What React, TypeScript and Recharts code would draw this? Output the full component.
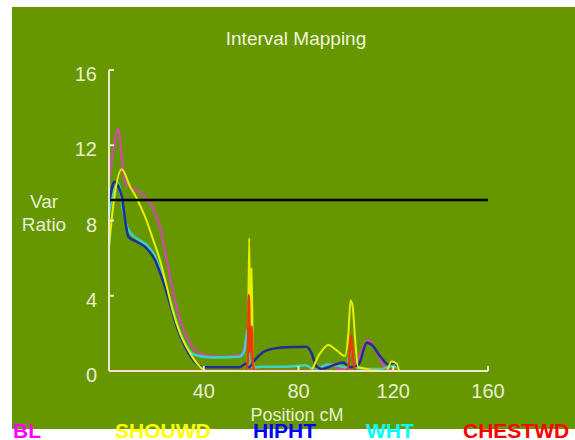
import { LineChart, Line, XAxis, YAxis, ReferenceLine } from "recharts";

// positions (cM) and variance ratios
const blX = [0, 1.5, 3.9, 5.5, 6.8, 10.3, 14.5, 18, 21.5, 24.4, 27.2, 30, 34.2, 39.8, 48, 55.3, 57.4, 58.5, 59.3, 60, 62, 85, 88, 91.8, 94.5, 97, 100, 103, 106, 109.5, 113, 116.5, 120];
const blY = [10.1, 11.5, 12.85, 11.2, 10.0, 9.7, 9.36, 8.8, 7.67, 5.9, 4.14, 2.71, 1.49, 0.85, 0.74, 0.85, 1.3, 2.2, 0.3, 0.05, 0, 0, 0.1, 0.3, 0.3, 0.1, 0.1, 0.2, 0.9, 1.65, 1.0, 0.2, 0];

const shouX = [0, 2, 5.4, 8.9, 11.7, 15.2, 18.7, 21.5, 24.4, 27.2, 30, 34.2, 38.4, 41, 57, 58.5, 59.2, 59.7, 60.2, 60.8, 62, 85, 88.4, 92.6, 96.1, 99.6, 101, 102, 102.9, 103.9, 105.2, 117, 119.3, 121.4, 122.5];
const shouY = [6.6, 9.0, 10.72, 9.8, 9.18, 8.2, 6.96, 5.9, 4.48, 3.07, 2.0, 0.95, 0.23, 0, 0, 0.3, 7.05, 1.5, 5.47, 0.5, 0, 0, 0.8, 1.38, 1.1, 0.8, 1.9, 3.75, 3.4, 1.7, 0.2, 0, 0.5, 0.4, 0];

const hipX = [0, 1.2, 2.2, 4, 5.4, 6.8, 8.2, 11.7, 15.9, 19.4, 22.2, 25.7, 28.6, 32.1, 35.6, 39.8, 55, 58, 59, 60, 61.6, 65, 68, 75, 83.4, 85.5, 87.6, 90, 94.5, 98.8, 102, 105.4, 108.8, 110.9, 114.4, 117.9, 120.7, 122];
const hipY = [8.9, 9.7, 10.06, 9.8, 9.27, 8.03, 7.14, 6.87, 6.52, 5.9, 5.0, 3.6, 2.36, 1.29, 0.58, 0.2, 0.2, 0.4, 0.2, 0.3, 0.58, 1.0, 1.15, 1.26, 1.29, 0.95, 0.23, 0.1, 0.3, 0.45, 0.2, 0.35, 1.5, 1.4, 0.8, 0.35, 0.45, 0.2];

const whtX = [0, 1.5, 3.9, 6, 8.2, 11.7, 15.9, 19.4, 22.2, 25.7, 28.6, 32.1, 35.6, 39.8, 45, 55, 57, 58.5, 59.5, 61, 65, 75, 83, 87, 92, 96, 100, 102.3, 104, 108, 115, 119, 121.5];
const whtY = [8.4, 9.3, 9.97, 8.47, 7.5, 7.05, 6.7, 6.1, 5.2, 3.8, 2.55, 1.45, 0.9, 0.76, 0.72, 0.76, 1.0, 2.2, 0.3, 0.2, 0.23, 0.23, 0.3, 0.05, 0.35, 0.3, 0.2, 1.2, 0.2, 0.1, 0.1, 0.25, 0.2];

const chestX = [0, 57.5, 58.6, 59, 59.6, 60.2, 60.8, 62, 100.5, 101.5, 102.2, 103, 104, 122];
const chestY = [0, 0, 0.5, 4.04, 1.0, 2.36, 0.3, 0, 0, 0.8, 1.9, 0.8, 0, 0];

const threshold = 9.09;
const xTicks = [40, 80, 120, 160];
const yTicks = [0, 4, 8, 12, 16];

const legendItems = [
  { name: "BL", color: "#ff00ff", x: 13 },
  { name: "SHOUWD", color: "#ffff00", x: 115 },
  { name: "HIPHT", color: "#0000ff", x: 253 },
  { name: "WHT", color: "#00ffff", x: 366 },
  { name: "CHESTWD", color: "#ff0000", x: 463 },
];

const toPoints = (xs: number[], ys: number[]) => xs.map((x, i) => ({ x, y: ys[i] }));

const series = [
  { name: "BL", data: toPoints(blX, blY), color: "#c8509e", width: 2.5 },
  { name: "WHT", data: toPoints(whtX, whtY), color: "#3cd2c8", width: 2.5 },
  { name: "HIPHT", data: toPoints(hipX, hipY), color: "#1e2e96", width: 2.5 },
  { name: "SHOUWD", data: toPoints(shouX, shouY), color: "#e8f000", width: 2 },
  { name: "CHESTWD", data: toPoints(chestX, chestY), color: "#ee3a00", width: 2.5 },
];

const axisColor = "#e4eecb";
const textColor = "#e6f0cf";
const font = "'Liberation Sans', Arial, sans-serif";

export default function App() {
  return (
    <div style={{ position: "absolute", left: 0, top: 0, width: 575, height: 440, background: "#fff", overflow: "hidden" }}>
      <div style={{ position: "absolute", left: 12, top: 7, width: 563, height: 422, background: "#679700" }} />
      <div style={{ position: "absolute", left: 0, top: 0 }}>
        <LineChart width={575} height={440} margin={{ top: 70, right: 87, left: 49, bottom: 39 }}>
          <XAxis
            type="number"
            dataKey="x"
            domain={[0, 160]}
            ticks={xTicks}
            allowDataOverflow
            height={30}
            stroke={axisColor}
            strokeWidth={2}
            tickSize={-5}
            tickMargin={18}
            tick={{ fill: textColor, fontSize: 20, fontFamily: font }}
          />
          <YAxis
            type="number"
            dataKey="y"
            domain={[0, 16]}
            ticks={yTicks}
            width={60}
            stroke={axisColor}
            strokeWidth={2}
            tickSize={-5}
            tickMargin={17}
            tick={{ fill: textColor, fontSize: 20, fontFamily: font, dy: 4 }}
          />
          {series.map((s) => (
            <Line
              key={s.name}
              data={s.data}
              dataKey="y"
              type="monotone"
              stroke={s.color}
              strokeWidth={s.width}
              dot={false}
              activeDot={false}
              isAnimationActive={false}
            />
          ))}
          <ReferenceLine y={threshold} stroke="#000" strokeWidth={2.5} />
        </LineChart>
      </div>
      <svg width={575} height={440} style={{ position: "absolute", left: 0, top: 0, pointerEvents: "none" }}>
        <text x={296} y={45} textAnchor="middle" fill="#eef6da" fontSize={19} fontFamily={font}>
          Interval Mapping
        </text>
        <text x={44} y={208} textAnchor="middle" fill={textColor} fontSize={19} fontFamily={font}>
          Var
        </text>
        <text x={44} y={231} textAnchor="middle" fill={textColor} fontSize={19} fontFamily={font}>
          Ratio
        </text>
        <text x={297} y={421} textAnchor="middle" fill={textColor} fontSize={18} fontFamily={font}>
          Position cM
        </text>
        {legendItems.map((l) => (
          <text key={l.name} x={l.x} y={438} fill={l.color} fontSize={21} fontWeight="bold" fontFamily={font}>
            {l.name}
          </text>
        ))}
      </svg>
    </div>
  );
}
